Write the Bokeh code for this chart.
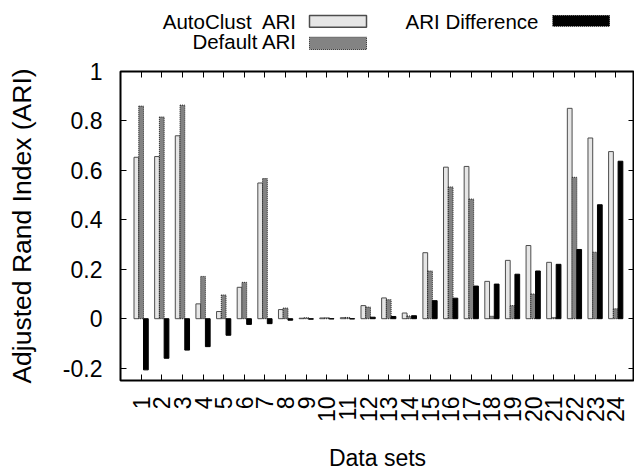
import math
from bokeh.plotting import figure
from bokeh.models import Range1d, FixedTicker, LinearAxis, CustomJSTickFormatter
from bokeh.layouts import column
from bokeh.embed import file_html
from bokeh.resources import INLINE
from bokeh.core.properties import value

# ---------------- data ----------------
datasets = list(range(1, 25))
autoclust_ari = [0.653, 0.656, 0.740, 0.060, 0.029, 0.127, 0.549, 0.037,
                 0.002, 0.003, 0.004, 0.053, 0.084, 0.023, 0.267, 0.613,
                 0.616, 0.151, 0.236, 0.296, 0.228, 0.851, 0.731, 0.676]
default_ari = [0.860, 0.816, 0.864, 0.171, 0.096, 0.147, 0.567, 0.043,
               0.004, 0.004, 0.005, 0.047, 0.077, 0.011, 0.193, 0.533,
               0.484, 0.010, 0.053, 0.100, 0.005, 0.572, 0.269, 0.040]
ari_difference = [-0.207, -0.160, -0.127, -0.113, -0.067, -0.023, -0.020, -0.006,
                  -0.002, -0.001, -0.001, 0.006, 0.009, 0.012, 0.073, 0.083,
                  0.132, 0.140, 0.180, 0.193, 0.220, 0.280, 0.461, 0.637]
y_ticks = [-0.2, 0, 0.2, 0.4, 0.6, 0.8, 1]
legend_labels = ["AutoClust\u00a0 ARI", "Default ARI", "ARI Difference"]

FONT = "Liberation Sans"
TICK_FS = "23px"
YLABEL_FS = "26.5px"
LEG_FS = "20.5px"

AUTO_FILL, AUTO_LINE = "#e6e6e6", "#4d4d4d"
DEF_FILL, DEF_LINE = "#838383", "#222222"
DIFF_FILL = "#000000"

W = 634
LEFT = 120

# ---------------- main plot ----------------
p = figure(width=W, height=415,
           x_range=Range1d(0, 24.91), y_range=Range1d(-0.25, 1.0),
           output_backend="svg", toolbar_location=None,
           min_border_left=LEFT, min_border_right=0,
           min_border_top=12, min_border_bottom=92)
p.grid.visible = False
p.outline_line_color = "black"
p.outline_line_width = 2
p.background_fill_color = "white"
p.border_fill_color = "white"

bw = 0.23
x_auto = [d - bw for d in datasets]
x_def = [d for d in datasets]
x_diff = [d + bw for d in datasets]

p.vbar(x=x_auto, top=autoclust_ari, bottom=0, width=bw,
       fill_color=AUTO_FILL, line_color=AUTO_LINE, line_width=1)
p.vbar(x=x_def, top=default_ari, bottom=0, width=bw,
       fill_color=DEF_FILL, line_color=DEF_LINE, line_width=1, line_dash="1 1")
p.vbar(x=x_diff, top=ari_difference, bottom=0, width=bw,
       fill_color=DIFF_FILL, line_color="black", line_width=1)

def style_axis(ax):
    ax.major_tick_in = 6
    ax.major_tick_out = 0
    ax.minor_tick_line_color = None
    ax.axis_line_color = None
    ax.major_tick_line_color = "black"
    ax.major_tick_line_width = 1
    ax.major_label_text_font = FONT
    ax.major_label_text_font_size = TICK_FS
    ax.major_label_text_color = "black"
    ax.axis_label_text_font = FONT
    ax.axis_label_text_font_size = TICK_FS
    ax.axis_label_text_font_style = "normal"
    ax.axis_label_text_color = "black"

xa = p.xaxis[0]
style_axis(xa)
xa.ticker = FixedTicker(ticks=datasets)
xa.major_label_orientation = math.pi / 2
xa.major_label_standoff = 16
xa.axis_label = "Data sets"
xa.axis_label_standoff = 20

ya = p.yaxis[0]
style_axis(ya)
ya.ticker = FixedTicker(ticks=y_ticks)
ya.formatter = CustomJSTickFormatter(
    code="return tick.toFixed(1).replace(/\\.0$/, '');")
ya.major_label_standoff = 18
ya.axis_label = "Adjusted Rand Index (ARI)"
ya.axis_label_text_font_size = YLABEL_FS
ya.axis_label_standoff = 23

def mirror(ax):
    style_axis(ax)
    ax.major_label_text_font_size = "1px"
    ax.major_label_text_color = None
    ax.major_label_standoff = 0

top_ax = LinearAxis(ticker=FixedTicker(ticks=datasets))
mirror(top_ax)
p.add_layout(top_ax, "above")

right_ax = LinearAxis(ticker=FixedTicker(ticks=y_ticks))
mirror(right_ax)
p.add_layout(right_ax, "right")

# ---------------- legend (separate strip above, frame aligned with plot) ----------------
LH = 59
lg = figure(width=W, height=LH, x_range=Range1d(LEFT, W), y_range=Range1d(0, LH),
            output_backend="svg", toolbar_location=None,
            x_axis_location=None, y_axis_location=None,
            min_border_left=LEFT, min_border_right=0,
            min_border_top=0, min_border_bottom=0)
lg.grid.visible = False
lg.outline_line_color = None
lg.background_fill_color = "white"
lg.border_fill_color = "white"

lg.text(x=[296.7, 296.7, 538], y=[38.5, 18.5, 38.5], text=legend_labels,
        text_align="right", text_baseline="middle",
        text_font=value(FONT), text_font_size=LEG_FS, text_color="black")
lg.quad(left=[309], right=[366], top=[44], bottom=[32.3],
        fill_color=AUTO_FILL, line_color=AUTO_LINE, line_width=1.5)
lg.quad(left=[309], right=[366], top=[22.3], bottom=[10],
        fill_color=DEF_FILL, line_color=DEF_LINE, line_width=1, line_dash="1 1")
lg.quad(left=[552.3], right=[609], top=[44], bottom=[33.3],
        fill_color=DIFF_FILL, line_color="black", line_width=1, line_dash="1 1")

layout = column(lg, p)
open("out.html", "w").write(file_html(layout, INLINE))
